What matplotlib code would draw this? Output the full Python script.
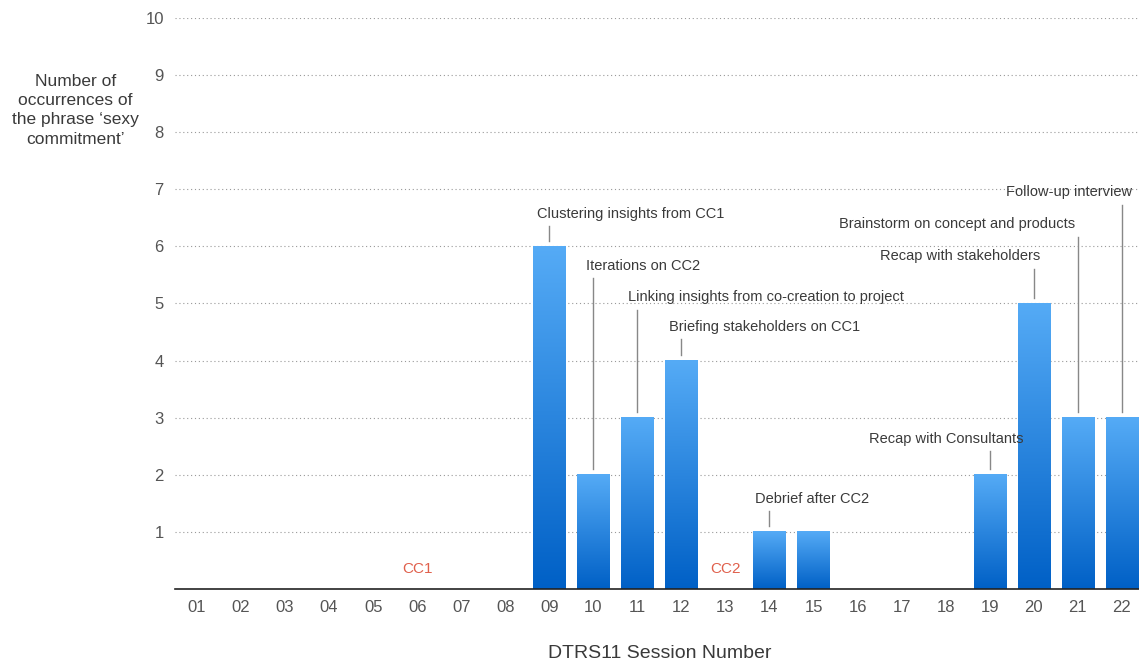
import numpy as np
import matplotlib.pyplot as plt
from matplotlib.colors import LinearSegmentedColormap

plt.rcParams['font.family'] = ['Liberation Sans', 'DejaVu Sans']

# data
sessions = ["01", "02", "03", "04", "05", "06", "07", "08", "09", "10", "11",
            "12", "13", "14", "15", "16", "17", "18", "19", "20", "21", "22"]
counts = [0, 0, 0, 0, 0, 0, 0, 0, 6, 2, 3, 4, 0, 1, 1, 0, 0, 0, 2, 5, 3, 3]

notes_session = ["09", "10", "11", "12", "14", "19", "20", "21", "22"]
notes_text = ["Clustering insights from CC1", "Iterations on CC2",
              "Linking insights from co-creation to project",
              "Briefing stakeholders on CC1", "Debrief after CC2",
              "Recap with Consultants", "Recap with stakeholders",
              "Brainstorm on concept and products", "Follow-up interview"]
# label placement (left x in session units, y in counts)
notes_x = [8.72, 9.83, 10.78, 11.71, 13.67, 16.26, 16.51, 15.57, 19.37]
notes_y = [6.57, 5.66, 5.11, 4.59, 1.58, 2.63, 5.83, 6.39, 6.95]

phase_labels = ["CC1", "CC2"]
phase_session = ["06", "13"]

fig = plt.figure(figsize=(11.39, 6.61), dpi=100)
ax = fig.add_axes([0.1536, 0.109, 0.8464, 0.864])

x = np.arange(1, len(sessions) + 1)
w = 0.73
cmap = LinearSegmentedColormap.from_list("g", ["#0060c6", "#55abf6"])
grad = np.linspace(0, 1, 256).reshape(-1, 1)

bars = ax.bar(x, counts, width=w, color="none", zorder=2)
for xi, c in zip(x, counts):
    if c > 0:
        ax.imshow(grad, cmap=cmap, origin="lower", aspect="auto",
                  extent=(xi - w / 2, xi + w / 2, 0, c), zorder=3)

ax.set_xlim(0.5, 22.39)
ax.set_ylim(0, 10)
ax.set_yticks(range(1, 11))
ax.set_xticks(x)
ax.set_xticklabels(sessions)
ax.grid(axis="y", linestyle=(0, (1, 2.5)), color="#999999", linewidth=0.8, zorder=1)
ax.set_axisbelow(True)
for s in ["top", "right", "left"]:
    ax.spines[s].set_visible(False)
ax.spines["bottom"].set_color("#222222")
ax.spines["bottom"].set_linewidth(1.2)
ax.spines["bottom"].set_zorder(4)
ax.tick_params(length=0, labelsize=12, colors="#555555")
ax.tick_params(axis="x", pad=8)
ax.tick_params(axis="y", pad=8)

pos = {s: i + 1 for i, s in enumerate(sessions)}
for s, t, tx, ty in zip(notes_session, notes_text, notes_x, notes_y):
    xi = pos[s]
    ax.text(tx, ty, t, ha="left", va="center", fontsize=10.5, color="#3a3a3a")
    ax.plot([xi, xi], [counts[xi - 1] + 0.1, ty - 0.22], color="#888888",
            linewidth=1.0, zorder=4)

for lab, s in zip(phase_labels, phase_session):
    ax.text(pos[s], 0.35, lab, ha="center", va="center", fontsize=11,
            color="#e0604c")

fig.text(0.066, 0.833, "Number of\noccurrences of\nthe phrase \u2018sexy\ncommitment\u2019",
         ha="center", va="center", fontsize=12.5, color="#3a3a3a", linespacing=1.35)
fig.text(0.579, 0.012, "DTRS11 Session Number", ha="center", va="center",
         fontsize=14, color="#3a3a3a")

fig.savefig("out.png", dpi=100)
